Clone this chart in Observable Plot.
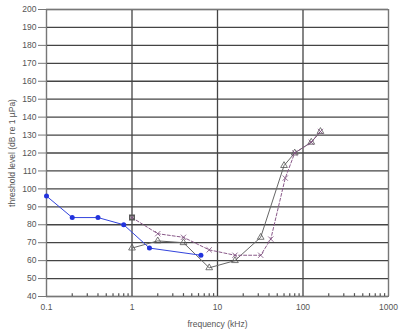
<!DOCTYPE html>
<html><head><meta charset="utf-8">
<script src="https://cdn.jsdelivr.net/npm/d3@7"></script>
<script src="https://cdn.jsdelivr.net/npm/@observablehq/plot@0.6"></script>
<style>body{margin:0;background:#fff;font-family:"Liberation Sans",Arial,sans-serif;}</style>
</head><body><div id="chart"></div>
<script>
const blueFreq = [0.1, 0.2, 0.4, 0.8, 1.6, 6.4];
const blueLevel = [96, 84, 84, 80, 67, 63];
const triFreq = [1, 2, 4, 8, 16, 32, 60, 80, 125, 160];
const triLevel = [67, 71, 70, 56, 60, 73, 113, 120, 126, 132];
const crossFreq = [1, 2, 4, 8, 16, 32, 42, 62, 80, 125, 160];
const crossLevel = [84, 75, 73, 66, 63, 63, 72, 106, 120, 126, 132];
const xTicks = [0.1, 1, 10, 100, 1000];
const yTicks = d3.range(40, 201, 10);
const minorTicks = [0.2,0.3,0.4,0.5,0.6,0.7,0.8,0.9,2,3,4,5,6,7,8,9,20,30,40,50,60,70,80,90,200,300,400,500,600,700,800,900];

const blue = blueFreq.map((f, i) => ({f, v: blueLevel[i]}));
const tri = triFreq.map((f, i) => ({f, v: triLevel[i]}));
const cross = crossFreq.map((f, i) => ({f, v: crossLevel[i]}));

const chart = Plot.plot({
  width: 399, height: 333,
  marginLeft: 46, marginRight: 11, marginTop: 9, marginBottom: 37,
  style: {fontFamily: "Liberation Sans, Arial, sans-serif", fontSize: "8.5px", color: "#555", background: "#fff"},
  x: {type: "log", domain: [0.1, 1000]},
  y: {domain: [40, 200]},
  marks: [
    Plot.gridY(yTicks, {stroke: "#444", strokeOpacity: 1, strokeWidth: 1.3}),
    Plot.gridX(xTicks, {stroke: "#444", strokeOpacity: 1, strokeWidth: 1.3}),
    Plot.frame({stroke: "#777"}),
    Plot.axisY(yTicks, {tickSize: 8, tickPadding: 2, label: "threshold level (dB re 1 µPa)", labelAnchor: "center", labelOffset: 38, labelArrow: "none", fill: "#555", stroke: "#777"}),
    Plot.axisX(xTicks, {tickSize: 0, tickPadding: 7, tickFormat: d => String(d), label: "frequency (kHz)", labelAnchor: "center", labelOffset: 30, labelArrow: "none", fill: "#555"}),
    Plot.ruleX(minorTicks, {x: d => d, y1: d => 40, y2: d => 41.6, stroke: "#555", strokeWidth: 1.2}),
    Plot.line(tri, {x: "f", y: "v", stroke: "#666", strokeWidth: 1}),
    Plot.dot(tri, {x: "f", y: "v", symbol: "triangle", r: 2.5, stroke: "#555", fill: "none", strokeWidth: 0.8}),
    Plot.line(cross, {x: "f", y: "v", stroke: "#8a5a8a", strokeWidth: 1, strokeDasharray: "3,2"}),
    Plot.dot(cross, {x: "f", y: "v", symbol: "times", r: 2.5, stroke: "#7a4a7a", strokeWidth: 0.8}),
    Plot.dot(cross.slice(0, 1), {x: "f", y: "v", symbol: "square", r: 2.5, stroke: "#555", fill: "none"}),
    Plot.line(blue, {x: "f", y: "v", stroke: "#3344dd", strokeWidth: 1}),
    Plot.dot(blue, {x: "f", y: "v", r: 2.5, fill: "#2233dd", stroke: "none"})
  ]
});
document.getElementById("chart").appendChild(chart);
</script></body></html>
